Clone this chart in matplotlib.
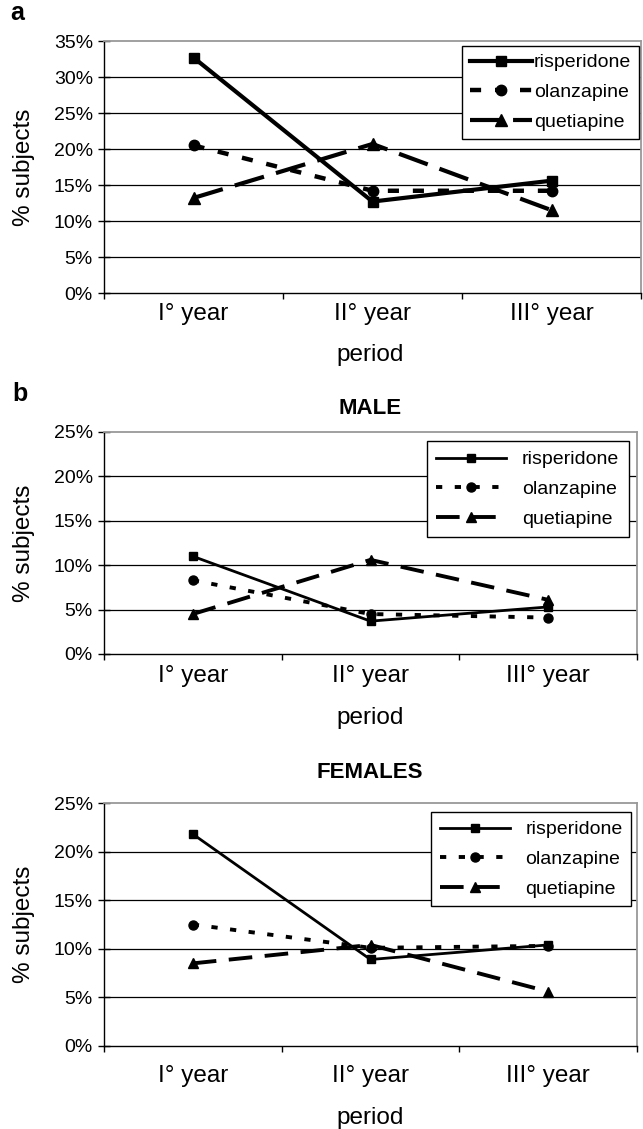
import numpy as np
import matplotlib
matplotlib.use("Agg")
import matplotlib.pyplot as plt

plt.rcParams['font.family'] = ['Liberation Sans', 'DejaVu Sans']
plt.rcParams['lines.scale_dashes'] = False

periods = ["I° year", "II° year", "III° year"]
drugs = ["risperidone", "olanzapine", "quetiapine"]

# panel a: all subjects (%)
all_risperidone = [32.7, 12.7, 15.6]
all_olanzapine = [20.5, 14.2, 14.2]
all_quetiapine = [13.2, 20.7, 11.5]

# panel b: males (%)
male_risperidone = [11.0, 3.7, 5.3]
male_olanzapine = [8.3, 4.5, 4.1]
male_quetiapine = [4.5, 10.6, 6.1]

# panel b: females (%)
female_risperidone = [21.8, 8.9, 10.4]
female_olanzapine = [12.5, 10.1, 10.3]
female_quetiapine = [8.5, 10.4, 5.6]

W, H = 643, 1129
fig = plt.figure(figsize=(W / 100, H / 100), dpi=100)


def px_box(left, right, top, bottom):
    return [left / W, 1 - bottom / H, (right - left) / W, (bottom - top) / H]


def draw_panel(ax, series, ymax, thick, legend_anchor, handlelength, textpad, borderpad, label_pad):
    x = np.arange(len(periods)) + 0.5
    if thick:
        styles = [dict(lw=3.0, marker='s', ms=7.5, ls='-'),
                  dict(lw=3.2, marker='o', ms=7.5, dashes=(8, 10)),
                  dict(lw=3.0, marker='^', ms=8.5, dashes=(22, 9))]
    else:
        styles = [dict(lw=2.0, marker='s', ms=6, ls='-'),
                  dict(lw=2.8, marker='o', ms=6.5, dashes=(4.5, 9)),
                  dict(lw=2.8, marker='^', ms=7, dashes=(17, 9))]
    for vals, name, st in zip(series, drugs, styles):
        ax.plot(x, vals, color='black', label=name, zorder=3, **st)

    ax.set_xlim(0, len(periods))
    ax.set_ylim(0, ymax)
    yt = np.arange(0, ymax + 1, 5)
    ax.set_yticks(yt)
    ax.set_yticklabels([f"{v}%" for v in yt], fontsize=14)
    for v in yt[1:-1]:
        ax.axhline(v, color='black', lw=0.9, zorder=1)

    ax.set_xticks(np.arange(len(periods) + 1))
    ax.set_xticklabels([])
    ax.set_xticks(x, minor=True)
    ax.set_xticklabels(periods, minor=True, fontsize=17.5)
    ax.tick_params(axis='x', which='major', direction='out', length=4, width=1)
    ax.tick_params(axis='x', which='minor', length=0, pad=label_pad)
    ax.tick_params(axis='y', direction='inout', length=8, width=1, pad=4)

    for s in ['top', 'right']:
        ax.spines[s].set_color('#999999')
        ax.spines[s].set_linewidth(1.3)
    for s in ['left', 'bottom']:
        ax.spines[s].set_color('black')
        ax.spines[s].set_linewidth(1.0)

    leg = ax.legend(loc='upper right', bbox_to_anchor=legend_anchor, fontsize=14,
                    handlelength=handlelength, handletextpad=textpad, labelspacing=0.62,
                    borderpad=borderpad, borderaxespad=0, fancybox=False, framealpha=1,
                    edgecolor='black', numpoints=1)
    leg.get_frame().set_linewidth(1.0)
    leg.set_zorder(5)


ax_a = fig.add_axes(px_box(104, 641, 41, 293))
draw_panel(ax_a, [all_risperidone, all_olanzapine, all_quetiapine], 35, True,
           (0.996, 0.980), 3.2, 0.1, 0.4, 7)

ax_b = fig.add_axes(px_box(104, 637, 432, 654))
draw_panel(ax_b, [male_risperidone, male_olanzapine, male_quetiapine], 25, False,
           (0.985, 0.959), 3.6, 0.8, 0.5, 8)

ax_c = fig.add_axes(px_box(104, 637, 803, 1046))
draw_panel(ax_c, [female_risperidone, female_olanzapine, female_quetiapine], 25, False,
           (0.989, 0.963), 3.6, 0.8, 0.45, 14)

# axis labels and titles placed in pixel positions
for ycen, top, bottom in [(355, 41, 293), (718, 432, 654), (1118, 803, 1046)]:
    fig.text(370 / W, 1 - ycen / H, "period", ha='center', va='center', fontsize=17.5)
    fig.text(24 / W, 1 - (top + bottom) / 2 / H, "% subjects", ha='center', va='center',
             rotation=90, fontsize=17.5)

fig.text(370 / W, 1 - 408 / H, "MALE", ha='center', va='center', fontsize=16, fontweight='bold')
fig.text(370 / W, 1 - 773 / H, "FEMALES", ha='center', va='center', fontsize=16, fontweight='bold')
fig.text(10 / W, 1 - 13 / H, "a", ha='left', va='center', fontsize=18, fontweight='bold')
fig.text(12 / W, 1 - 394 / H, "b", ha='left', va='center', fontsize=18, fontweight='bold')

fig.savefig("out.png", dpi=100)
